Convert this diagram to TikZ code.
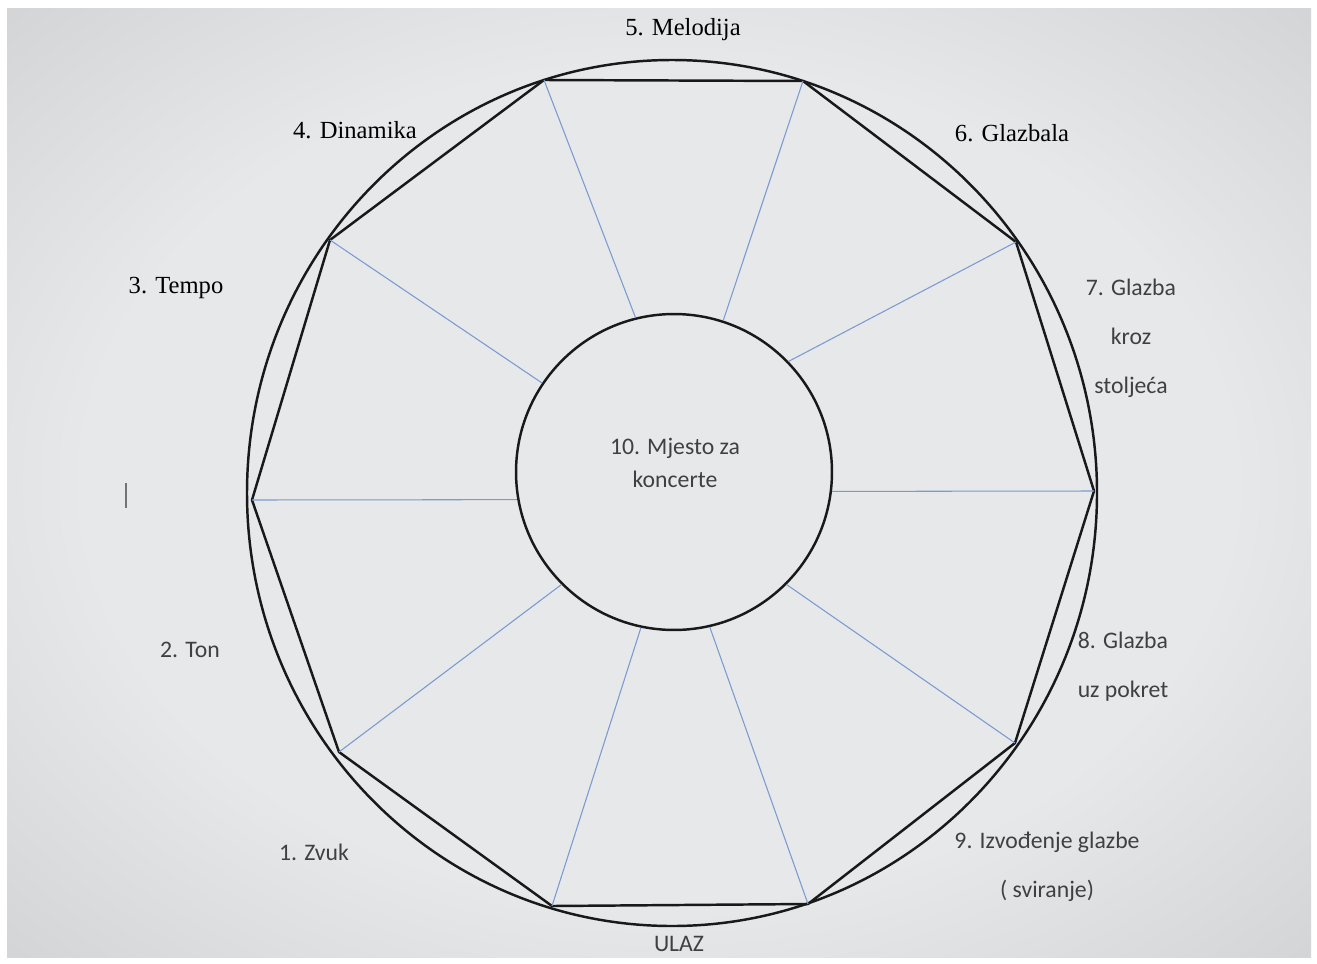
\documentclass[tikz,border=0pt]{standalone}
\usepackage{fontspec}
\setmainfont{Liberation Serif}
\newfontfamily\calibri{Carlito}

\definecolor{spokeblue}{HTML}{7A9AD0}
\definecolor{bgin}{HTML}{E6E8EA}
\definecolor{bgout}{HTML}{A2A2A4}
\pgfdeclareradialshading{screenglow}{\pgfpoint{0bp}{0bp}}{color(0bp)=(bgin); color(22bp)=(bgin); color(70bp)=(bgout)}

\tikzset{
  rim/.style = {line width=1.4pt, black!90},
  spoke/.style = {line width=0.6pt, spokeblue},
  hub/.style = {circle, draw, line width=1.4pt, black!90, minimum size=6.32cm, inner sep=0pt},
  serifl/.style = {font=\fontsize{14}{17}\selectfont, text=black},
  sansl/.style = {font=\calibri\fontsize{13.5}{17}\selectfont, text=black!75, align=center},
}

\begin{document}
\begin{tikzpicture}[x = 0.02cm, y = -0.02cm]

\useasboundingbox (0,0) rectangle (1317,963);
\fill [white] (0,0) rectangle (1317,963);
\shade [shading=screenglow] (7,9) rectangle (1311,957);

% corners of the ten sides
\coordinate (k1) at (544,80);
\coordinate (k2) at (803,81);
\coordinate (k3) at (1016,242);
\coordinate (k4) at (1094,491);
\coordinate (k5) at (1015,743);
\coordinate (k6) at (808,904);
\coordinate (k7) at (552,906);
\coordinate (k8) at (339,752);
\coordinate (k9) at (252,500);
\coordinate (k10) at (330,240);

\node [hub] (hub) at (674,472) {};

\draw [rim] (672,493) ellipse (425 and 433);
\draw [rim, line join=round] (k1) -- (k2) -- (k3) -- (k4) -- (k5) -- (k6) -- (k7) -- (k8) -- (k9) -- (k10) -- cycle;

% spokes, each to its own point on the hub
\foreach \k/\a in {1/104, 2/72, 3/44, 4/-7, 5/-45, 6/-77, 7/-102, 8/-135, 9/-170, 10/146}
  \draw [spoke] (k\k) -- (hub.\a);

\node [sansl] (mjesto) at (675,463) {10. Mjesto za\\[2pt]koncerte};

\node [serifl] (melodija) at (683,30) {5. Melodija};
\node [serifl] (dinamika) at (355,130) {4. Dinamika};
\node [serifl] (glazbala) at (1012,133) {6. Glazbala};
\node [serifl] (tempo) at (176,288) {3. Tempo};

\node [sansl] (stoljeca) at (1131,338) {7. Glazba\\[11pt]kroz\\[11pt]stoljeća};
\node [sansl] (pokret) at (1123,667) {8. Glazba\\[11pt]uz pokret};
\node [sansl] (izvodenje) at (1047,867) {9. Izvođenje glazbe\\[11pt]( sviranje)};
\node [sansl] (ton) at (190,650) {2. Ton};
\node [sansl] (zvuk) at (314,852) {1. Zvuk};
\node [sansl] (ulaz) at (679,944) {ULAZ};

% text cursor
\draw [line width=0.8pt, black!55] (126,483) -- (126,508);

\end{tikzpicture}
\end{document}
